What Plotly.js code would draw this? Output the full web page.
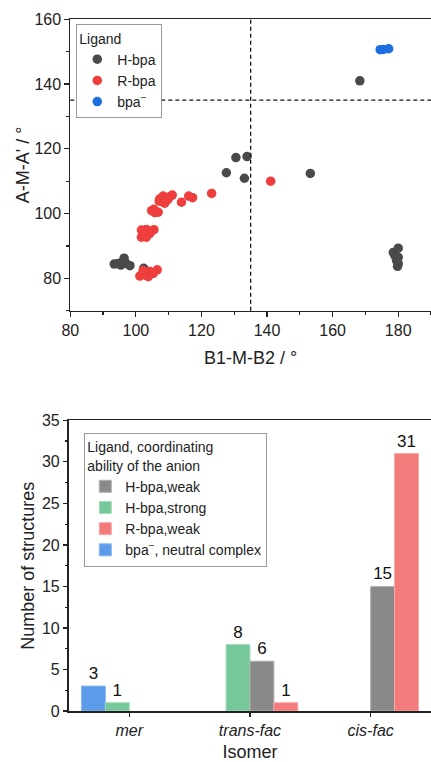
<!DOCTYPE html>
<html><head><meta charset="utf-8">
<script src="https://cdn.plot.ly/plotly-3.0.1.min.js"></script>
<style>html,body{margin:0;padding:0;background:#fff}#chart{width:431px;height:762px}</style>
</head><body><div id="chart"></div>
<script>
// ---- Scatter data (B1-M-B2 vs A-M-A') ----
const hbpaX = [168.3, 130.5, 133.9, 127.6, 133.1, 153.2, 180.0, 178.5, 179.0, 180.0, 179.5, 180.0, 179.8, 93.4, 94.6, 95.6, 96.4, 97.0, 98.2, 95.4, 102.4];
const hbpaY = [141.0, 117.3, 117.6, 112.6, 110.9, 112.4, 89.3, 88.0, 87.0, 86.5, 85.5, 84.5, 83.7, 84.4, 84.6, 84.8, 86.2, 84.6, 83.9, 84.1, 83.1];
const rbpaX = [141.1, 123.1, 116.1, 117.3, 113.9, 107.3, 108.3, 109.3, 110.3, 111.1, 108.8, 107.8, 109.8, 107.1, 104.8, 105.8, 106.8, 105.5, 101.7, 103.2, 105.5, 102.2, 103.2, 104.3, 101.7, 101.2, 103.2, 103.8, 102.2, 104.3, 106.5, 105.3];
const rbpaY = [110.0, 106.2, 105.4, 104.9, 103.5, 104.5, 105.4, 104.2, 105.2, 105.7, 103.2, 103.7, 104.4, 103.9, 100.9, 100.3, 100.4, 101.3, 94.9, 95.1, 95.0, 93.4, 92.7, 93.9, 92.7, 80.7, 80.9, 80.5, 82.4, 82.1, 82.6, 81.5];
const bpaX = [174.5, 175.5, 177.1];
const bpaY = [150.6, 150.7, 150.9];

// ---- Bar data (number of structures per isomer) ----
const isomers = ['mer', 'trans-fac', 'cis-fac'];
const isomerLabels = ['<i>mer</i>', '<i>trans-fac</i>', '<i>cis-fac</i>'];
const bpaNeutral = [3, 0, 0];
const hbpaStrong = [1, 8, 0];
const hbpaWeak = [0, 6, 15];
const rbpaWeak = [0, 1, 31];

const FONT = '"Liberation Sans", Arial, sans-serif';
// zero counts are not drawn (no bar, no label)
const barX = v => isomers.filter((c, i) => v[i] > 0);
const barY = v => v.filter(n => n > 0);

const ms = 9.5;
function barTrace(vals, name, color, edge, rank) {
  return {type: 'bar', x: barX(vals), y: barY(vals), name: name, xaxis: 'x2', yaxis: 'y2', legend: 'legend2', legendrank: rank,
    marker: {color: color, line: {color: edge, width: 1}},
    texttemplate: '%{y}', textposition: 'outside', cliponaxis: false,
    textfont: {size: 17, color: '#111', family: FONT}};
}
const traces = [
  {type: 'scatter', mode: 'markers', x: hbpaX, y: hbpaY, name: 'H-bpa', xaxis: 'x', yaxis: 'y', legend: 'legend',
   marker: {color: '#4a4a4a', size: ms, line: {width: 0}}},
  {type: 'scatter', mode: 'markers', x: rbpaX, y: rbpaY, name: 'R-bpa', xaxis: 'x', yaxis: 'y', legend: 'legend',
   marker: {color: '#ef3e3e', size: ms, line: {width: 0}}},
  {type: 'scatter', mode: 'markers', x: bpaX, y: bpaY, name: 'bpa<sup>−</sup>', xaxis: 'x', yaxis: 'y', legend: 'legend',
   marker: {color: '#1c6de0', size: ms, line: {width: 0}}},
  barTrace(bpaNeutral, 'bpa<sup>−</sup>, neutral complex', '#5b9be8', '#8ab8f0', 4),
  barTrace(hbpaStrong, 'H-bpa,strong', '#76c799', '#a3dbbb', 2),
  barTrace(hbpaWeak, 'H-bpa,weak', '#898989', '#b0b0b0', 1),
  barTrace(rbpaWeak, 'R-bpa,weak', '#f47b7b', '#f8a8a8', 3)
];

const axisCommon = {
  showline: true, linecolor: '#222', linewidth: 1.5, ticks: 'outside', ticklen: 4.5, tickwidth: 1.2, tickcolor: '#222',
  showgrid: false, zeroline: false, automargin: true, tickfont: {size: 16, color: '#222', family: FONT}
};
const titleFont = {size: 18, family: FONT, color: '#222'};

const layout = {
  width: 431, height: 762,
  margin: {l: 0, r: 0, t: 0, b: 0, autoexpand: false},
  paper_bgcolor: '#fff', plot_bgcolor: '#fff',
  font: {family: FONT, color: '#222'},
  barmode: 'group', bargap: 0.207, bargroupgap: 0,
  xaxis: Object.assign({}, axisCommon, {
    domain: [0.1631, 1], range: [80, 190], dtick: 20, tick0: 80, mirror: true,
    minor: {ticks: 'outside', ticklen: 2.5, dtick: 10, tickcolor: '#222', tickwidth: 1.2},
    title: {text: 'B1-M-B2 / °', font: titleFont, standoff: 13},
    anchor: 'y'
  }),
  yaxis: Object.assign({}, axisCommon, {
    domain: [0.5923, 0.9747], range: [70, 160], dtick: 20, tick0: 80,
    minor: {ticks: 'outside', ticklen: 2.5, dtick: 10, tickcolor: '#222', tickwidth: 1.2},
    title: {text: "A-M-A' / °", font: titleFont, standoff: 0},
    anchor: 'x'
  }),
  xaxis2: Object.assign({}, axisCommon, {
    domain: [0.160, 1], range: [-0.5, 2.5], type: 'category', mirror: true,
    categoryorder: 'array', categoryarray: isomers,
    tickvals: isomers, ticktext: isomerLabels,
    title: {text: 'Isomer', font: titleFont, standoff: 13},
    anchor: 'y2'
  }),
  yaxis2: Object.assign({}, axisCommon, {
    domain: [0.0669, 0.4484], range: [0, 35], dtick: 5,
    minor: {ticks: 'outside', ticklen: 2.5, dtick: 2.5, tickcolor: '#222', tickwidth: 1.2},
    title: {text: 'Number of structures', font: titleFont, standoff: 2},
    anchor: 'x2'
  }),
  shapes: [
    {type: 'line', xref: 'x', yref: 'y domain', x0: 135, x1: 135, y0: 0, y1: 1, line: {color: '#111', width: 1.3, dash: '4px,3px'}},
    {type: 'line', xref: 'x domain', yref: 'y', x0: 0, x1: 1, y0: 135, y1: 135, line: {color: '#111', width: 1.3, dash: '4px,3px'}}
  ],
  legend: {
    x: 0.177, y: 0.968, xanchor: 'left', yanchor: 'top',
    bgcolor: '#fff', bordercolor: '#999', borderwidth: 1,
    font: {size: 14, family: FONT, color: '#222'},
    title: {text: 'Ligand', font: {size: 14, family: FONT, color: '#222'}},
    tracegroupgap: 0
  },
  legend2: {
    x: 0.1956, y: 0.4314, xanchor: 'left', yanchor: 'top',
    bgcolor: '#fff', bordercolor: '#999', borderwidth: 1,
    font: {size: 14, family: FONT, color: '#222'},
    title: {text: 'Ligand, coordinating<br>ability of the anion', font: {size: 14, family: FONT, color: '#222'}},
    traceorder: 'normal', tracegroupgap: 0
  }
};

Plotly.newPlot('chart', traces, layout, {displayModeBar: false, staticPlot: true});
</script>
</body></html>
